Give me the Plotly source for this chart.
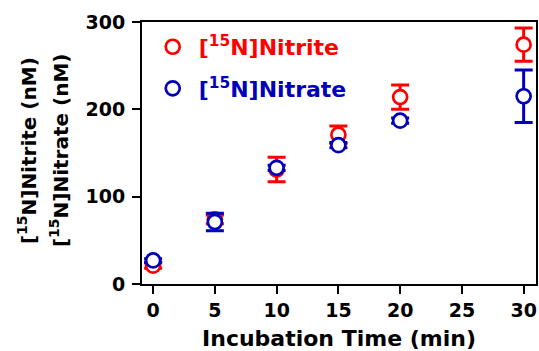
import plotly.graph_objects as go

time_min = [0, 5, 10, 15, 20, 30]
nitrite = [21, 74, 131, 171, 214, 274]
nitrite_err = [3, 5, 14, 10, 14, 19]
nitrate = [27, 71, 133, 159, 187, 215]
nitrate_err = [2, 10, 3, 3, 3, 30]

x_ticks = [0, 5, 10, 15, 20, 25, 30]
y_ticks = [0, 100, 200, 300]

RED = "#FF0000"
BLUE = "#0000BB"
FONT = "DejaVu Sans"

fig = go.Figure()

fig.add_trace(go.Scatter(
    x=time_min, y=nitrite, mode="markers",
    name='<span style="color:%s">[<sup>15</sup>N]Nitrite</span>' % RED,
    legendgroup="a",
    marker=dict(symbol="circle", size=14, color="white", line=dict(width=2.7, color=RED)),
    error_y=dict(type="data", array=nitrite_err, visible=True, color=RED, thickness=3, width=9),
))
fig.add_trace(go.Scatter(
    x=time_min, y=nitrate, mode="markers",
    name='<span style="color:%s">[<sup>15</sup>N]Nitrate</span>' % BLUE,
    legendgroup="b",
    marker=dict(symbol="circle", size=14, color="white", line=dict(width=2.7, color=BLUE)),
    error_y=dict(type="data", array=nitrate_err, visible=True, color=BLUE, thickness=3, width=9),
))

xr = [-0.9, 31.0]
yr = [0, 300]

# y-axis title: two lines drawn as rotated annotations
fig.add_annotation(text="[<sup>15</sup>N]Nitrite (nM)", xref="paper", yref="paper",
                   x=-0.290, y=0.51, xanchor="center", yanchor="middle", textangle=-90,
                   showarrow=False, font=dict(family=FONT, size=20, weight="bold", color="black"))
fig.add_annotation(text="[<sup>15</sup>N]Nitrate (nM)", xref="paper", yref="paper",
                   x=-0.209, y=0.51, xanchor="center", yanchor="middle", textangle=-90,
                   showarrow=False, font=dict(family=FONT, size=20, weight="bold", color="black"))

fig.update_layout(
    width=539, height=351,
    margin=dict(l=142, r=1, t=22, b=66),
    paper_bgcolor="white", plot_bgcolor="white",
    font=dict(family=FONT, color="black", size=18),
    showlegend=True,
    legend=dict(
        x=0.012, y=0.985, xanchor="left", yanchor="top",
        bgcolor="rgba(0,0,0,0)", borderwidth=0,
        font=dict(family=FONT, size=22, weight="bold"),
        tracegroupgap=10, traceorder="grouped", itemwidth=42,
    ),
    xaxis=dict(
        range=xr, tickvals=x_ticks, ticktext=[str(v) for v in x_ticks],
        showgrid=False, zeroline=False,
        showline=True, linecolor="black", linewidth=2, mirror=True,
        ticks="outside", ticklen=8, tickwidth=2, tickcolor="black",
        tickfont=dict(family=FONT, size=19, weight="bold"),
        title=dict(text="Incubation Time (min)", font=dict(family=FONT, size=22, weight="bold"), standoff=14),
    ),
    yaxis=dict(
        range=yr, tickvals=y_ticks, ticktext=[str(v) for v in y_ticks],
        showgrid=False, zeroline=False,
        showline=True, linecolor="black", linewidth=2, mirror=True,
        ticks="outside", ticklen=8, tickwidth=2, tickcolor="black",
        tickfont=dict(family=FONT, size=19, weight="bold"),
        ticklabelstandoff=3,
    ),
    xaxis2=dict(
        overlaying="x", side="top", range=xr, tickvals=x_ticks,
        showticklabels=False, showgrid=False, zeroline=False, showline=False,
        ticks="inside", ticklen=9, tickwidth=2, tickcolor="black",
    ),
    yaxis2=dict(
        overlaying="y", side="right", range=yr, tickvals=y_ticks,
        showticklabels=False, showgrid=False, zeroline=False, showline=False,
        ticks="inside", ticklen=8, tickwidth=2, tickcolor="black",
    ),
)

fig.write_html("out.html", config={"displayModeBar": False},
               post_script="document.body.style.margin='0';")
